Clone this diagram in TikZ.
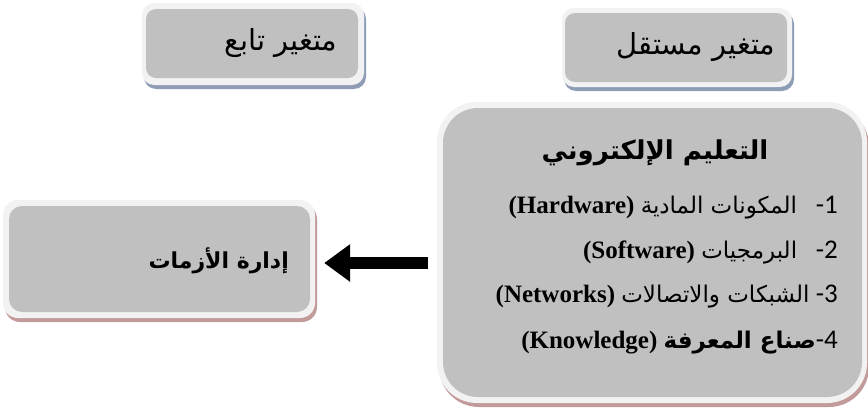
\documentclass[tikz,border=0pt]{standalone}
\usepackage{fontspec}
\setmainfont{Liberation Serif}
\newfontfamily\arabicfont[Script=Arabic]{DejaVu Sans}
\newfontfamily\numfont{Carlito}
\TeXXeTstate=1
\usetikzlibrary{arrows.meta, shadows}
\definecolor{boxgray}{HTML}{C0C0C0}
\definecolor{framegray}{HTML}{F2F2F2}
\definecolor{blueshadow}{HTML}{8E9DB5}
\definecolor{roseshadow}{HTML}{C39A9A}
\newcommand{\artxt}[1]{{\arabicfont\beginR #1\endR}}
\newcommand{\artsz}[1]{{\fontsize{23}{26}\selectfont\artxt{#1}}}
\newcommand{\numsz}[1]{{\numfont\fontsize{27}{30}\selectfont #1}}
\newcommand{\ltnsz}[1]{{\bfseries\fontsize{25}{28}\selectfont #1}}
\tikzstyle{frame} = [rectangle, rounded corners=12pt, fill=framegray, draw=none, inner sep=0pt]
\tikzstyle{body} = [rectangle, rounded corners=10pt, fill=boxgray, draw=none, inner sep=0pt]
\tikzstyle{blueshade} = [general shadow={fill=blueshadow, shadow xshift=2pt, shadow yshift=-4pt}]
\tikzstyle{roseshade} = [general shadow={fill=roseshadow, shadow xshift=2pt, shadow yshift=-4pt}]
\tikzstyle{label} = [inner sep=0pt, font=\fontsize{29}{32}\selectfont]
\tikzstyle{item} = [inner sep=0pt, anchor=east, font=\fontsize{25}{28}\selectfont]
\tikzstyle{arrow} = [line width=12pt, -{Triangle[width=36pt,length=26pt]}]

\begin{document}
\begin{tikzpicture}[x=1pt, y=-1pt]
\useasboundingbox (0,0) rectangle (868,415);

%Dependent variable
\node (dep_frame) [frame, blueshade, minimum width=222pt, minimum height=82pt] at (253,44) {};
\node (dep_body) [body, minimum width=212pt, minimum height=69pt] at (252,43.5) {};
\node (dep_text) [label] at (281,43) {\artxt{متغير تابع}};

%Independent variable
\node (indep_frame) [frame, blueshade, minimum width=230pt, minimum height=79pt] at (677,47.5) {};
\node (indep_body) [body, minimum width=222pt, minimum height=69pt] at (676,47.5) {};
\node (indep_text) [label] at (696,47) {\artxt{متغير مستقل}};

%E-learning
\node (elearn_frame) [frame, roseshade, rounded corners=40pt, minimum width=430pt, minimum height=301pt] at (652,252.5) {};
\node (elearn_body) [body, rounded corners=35pt, minimum width=419pt, minimum height=289pt] at (652.5,252.5) {};
\node (elearn_title) [label, font=\bfseries\fontsize{26}{30}\selectfont] at (655,153) {\artxt{التعليم الإلكتروني}};
\node (elearn_one) [item] at (838,208) {\ltnsz{(Hardware)}\ \artsz{المكونات المادية}\ \ \ \numsz{-1}};
\node (elearn_two) [item] at (838,253) {\ltnsz{(Software)}\ \artsz{البرمجيات}\ \ \ \numsz{-2}};
\node (elearn_three) [item] at (838,297) {\ltnsz{(Networks)}\ \artsz{الشبكات والاتصالات}\ \numsz{-3}};
\node (elearn_four) [item] at (838,343) {\ltnsz{(Knowledge)}\ {\bfseries\artsz{صناع المعرفة}}\numsz{-4}};

%Crisis management
\node (crisis_frame) [frame, roseshade, rounded corners=15pt, minimum width=312pt, minimum height=118pt] at (159,259) {};
\node (crisis_body) [body, rounded corners=13pt, minimum width=301pt, minimum height=106pt] at (159.5,259) {};
\node (crisis_text) [label, font=\bfseries\fontsize{22}{26}\selectfont, anchor=east] at (289,261) {\artxt{إدارة الأزمات}};

\draw [arrow] ([xshift=-9pt, yshift=-10.5pt]elearn_frame.west) -- ([xshift=9pt, yshift=-4pt]crisis_frame.east);

\end{tikzpicture}
\end{document}
